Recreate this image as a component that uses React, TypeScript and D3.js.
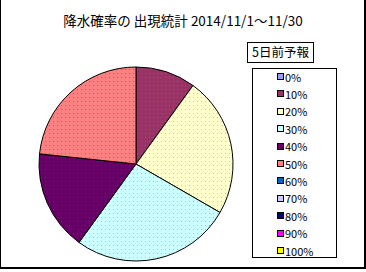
import React from "react";
import * as d3 from "d3";

const categories = ["0%", "10%", "20%", "30%", "40%", "50%", "60%", "70%", "80%", "90%", "100%"];
const days = [0, 3, 7, 8, 5, 7, 0, 0, 0, 0, 0];
const colors = ["#9999FF", "#993366", "#FFFFCC", "#CCFFFF", "#660066", "#FF8080", "#0066CC", "#CCCCFF", "#000080", "#FF00FF", "#FFFF00"];
const dotColors = ["#7777cc", "#cc3399", "#cccc99", "#99cccc", "#990099", "#cc5555", "#004499", "#9999cc", "#000055", "#cc00cc", "#cccc00"];
const title = "降水確率の 出現統計 2014/11/1～11/30";
const legendTitle = "5日前予報";

export default function App() {
  const W = 366, H = 272;
  const cx = 136, cy = 164, r = 97;
  const pie = d3.pie<number>().sort(null).value((d) => d).startAngle(0).endAngle(2 * Math.PI);
  const arcs = pie(days);
  const arc = d3.arc<d3.PieArcDatum<number>>().innerRadius(0).outerRadius(r);
  const ly = d3.scalePoint<string>().domain(categories).range([77, 251]);
  const font = "'Noto Sans CJK JP', 'DejaVu Sans', sans-serif";
  return (
    <svg width={W} height={H} style={{ position: "absolute", left: 0, top: 0 }} shapeRendering="crispEdges">
      <defs>
        {colors.map((c, i) => (
          <pattern key={i} id={`p${i}`} width={4} height={4} patternUnits="userSpaceOnUse">
            <rect width={4} height={4} fill={c} />
            <rect x={1} y={1} width={1} height={1} fill={dotColors[i]} />
          </pattern>
        ))}
      </defs>
      <rect x={0} y={0} width={W} height={H} fill="#fff" />
      <rect x={0.5} y={-2} width={364.5} height={270} fill="none" stroke="#000" strokeWidth={1.5} />
      <text x={183} y={26} textAnchor="middle" fontFamily={font} fontSize={13.5} fill="#000">{title}</text>
      <g transform={`translate(${cx},${cy})`} shapeRendering="auto">
        {arcs.map((a, i) =>
          a.value > 0 ? (
            <path key={i} d={arc(a) || ""} fill={`url(#p${i})`} stroke="#000" strokeWidth={1} />
          ) : null
        )}
      </g>
      <rect x={247.5} y={42.5} width={66} height={20} fill="#fff" stroke="#000" strokeWidth={1} />
      <text x={280.5} y={57} textAnchor="middle" fontFamily={font} fontSize={12.5} fill="#000">{legendTitle}</text>
      <rect x={252.5} y={68.5} width={84} height={189} fill="#fff" stroke="#000" strokeWidth={1} />
      {categories.map((c, i) => (
        <g key={c}>
          <rect x={277.5} y={(ly(c) || 0) - 3.5} width={6} height={6} fill={colors[i]} stroke="#000" strokeWidth={1} />
          <text x={285} y={(ly(c) || 0) + 4.5} fontFamily={font} fontSize={11} fill="#000">{c}</text>
        </g>
      ))}
    </svg>
  );
}
